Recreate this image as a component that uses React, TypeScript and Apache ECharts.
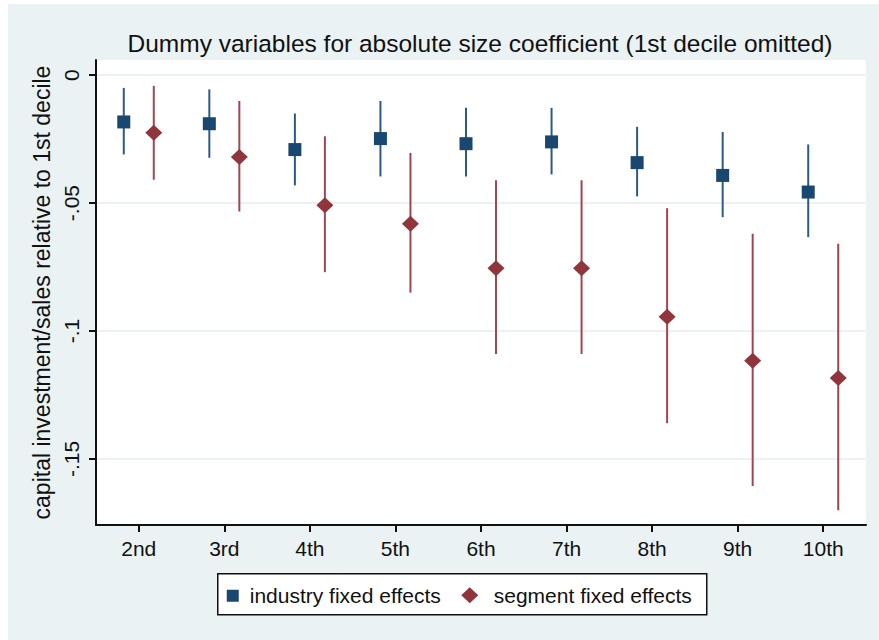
import React, { useEffect, useRef } from "react";
import * as echarts from "echarts";

const categories = ["2nd", "3rd", "4th", "5th", "6th", "7th", "8th", "9th", "10th"];
const industryCoef = [-0.0183, -0.019, -0.0291, -0.0248, -0.0268, -0.0261, -0.0342, -0.0392, -0.0457];
const industryLow = [-0.031, -0.0323, -0.0431, -0.0396, -0.0396, -0.0388, -0.0474, -0.0555, -0.0633];
const industryHigh = [-0.005, -0.0056, -0.015, -0.0101, -0.0128, -0.0128, -0.0202, -0.0222, -0.0271];
const segmentCoef = [-0.0225, -0.032, -0.0509, -0.0581, -0.0755, -0.0755, -0.0944, -0.1116, -0.1184];
const segmentLow = [-0.0409, -0.0533, -0.077, -0.085, -0.109, -0.109, -0.136, -0.1606, -0.17];
const segmentHigh = [-0.0042, -0.0101, -0.0239, -0.0304, -0.0411, -0.0411, -0.052, -0.062, -0.0659];
const yTicks = [0, -0.05, -0.1, -0.15];

const titleText = "Dummy variables for absolute size coefficient (1st decile omitted)";
const yAxisTitle = "capital investment/sales relative to 1st decile";
const industryName = "industry fixed effects";
const segmentName = "segment fixed effects";

const NAVY = "#1a476f";
const NAVY_LINE = "#2c5a86";
const MAROON = "#90353b";
const MAROON_LINE = "#a0464e";
const BG = "#eaf2f3";
const FONT = "Liberation Sans, Arial, sans-serif";

function errorBars(low: number[], high: number[], offset: number, color: string) {
  return {
    type: "custom",
    silent: true,
    z: 2,
    data: low.map((l, i) => [i, l, high[i]]),
    renderItem: (params: any, api: any) => {
      const p1 = api.coord([api.value(0), api.value(1)]);
      const p2 = api.coord([api.value(0), api.value(2)]);
      return {
        type: "line",
        shape: { x1: p1[0] + offset, y1: p1[1], x2: p2[0] + offset, y2: p2[1] },
        style: { stroke: color, lineWidth: 2 },
      };
    },
  };
}

function fmtTick(v: number) {
  if (v === 0) return "0";
  return String(v).replace("0.", ".");
}

export default function App() {
  const ref = useRef<HTMLDivElement>(null);
  useEffect(() => {
    document.body.style.margin = "0";
    const chart = echarts.init(ref.current!, null, { renderer: "svg" });
    const legendX = 209;
    const legendY = 569;
    chart.setOption({
      animation: false,
      backgroundColor: BG,
      title: {
        text: titleText,
        left: 472,
        top: 27,
        padding: 0,
        textAlign: "center",
        textStyle: { fontFamily: FONT, fontSize: 24.5, fontWeight: "normal", color: "#111" },
      },
      grid: {
        left: 88,
        top: 56,
        right: 13,
        bottom: 115,
        show: true,
        backgroundColor: "#ffffff",
        borderWidth: 0,
      },
      xAxis: {
        type: "category",
        data: categories,
        boundaryGap: true,
        axisLine: { show: true, onZero: false, lineStyle: { color: "#111", width: 2 } },
        axisTick: { show: true, alignWithLabel: true, length: 7, lineStyle: { color: "#111", width: 2 } },
        axisLabel: { margin: 13, fontFamily: FONT, fontSize: 21, color: "#111" },
        splitLine: { show: false },
      },
      yAxis: {
        type: "value",
        min: -0.1758,
        max: 0.0059,
        name: yAxisTitle,
        nameLocation: "middle",
        nameGap: 38,
        nameRotate: 90,
        nameTextStyle: { fontFamily: FONT, fontSize: 23, color: "#111" },
        axisLine: { show: true, onZero: false, lineStyle: { color: "#111", width: 2 } },
        axisTick: { show: true, length: 7, customValues: yTicks, lineStyle: { color: "#111", width: 2 } },
        axisLabel: {
          rotate: 90,
          margin: 14,
          customValues: yTicks,
          formatter: fmtTick,
          fontFamily: FONT,
          fontSize: 21,
          color: "#111",
        },
        splitLine: { show: true, lineStyle: { color: "#e4edf0", width: 1.5 } },
      },
      series: [
        errorBars(industryLow, industryHigh, -15, NAVY_LINE),
        errorBars(segmentLow, segmentHigh, 15, MAROON_LINE),
        {
          type: "scatter",
          name: industryName,
          z: 3,
          symbol: "rect",
          symbolSize: 13,
          symbolOffset: [-15, 0],
          itemStyle: { color: NAVY, opacity: 1 },
          data: industryCoef,
        },
        {
          type: "scatter",
          name: segmentName,
          z: 3,
          symbol: "diamond",
          symbolSize: [17, 16],
          symbolOffset: [15, 0],
          itemStyle: { color: MAROON, opacity: 1 },
          data: segmentCoef,
        },
      ],
      graphic: [
        {
          type: "group",
          left: legendX,
          top: legendY,
          children: [
            {
              type: "rect",
              shape: { x: 0, y: 0, width: 489, height: 41 },
              style: { fill: "#fff", stroke: "#111", lineWidth: 1.5 },
            },
            {
              type: "rect",
              shape: { x: 9, y: 16, width: 12, height: 12 },
              style: { fill: NAVY },
            },
            {
              type: "text",
              x: 32,
              y: 22,
              style: { text: industryName, font: `21px ${FONT}`, fill: "#111", textVerticalAlign: "middle" },
            },
            {
              type: "polygon",
              shape: { points: [[252, 13.5], [260.5, 21.5], [252, 29.5], [243.5, 21.5]] },
              style: { fill: MAROON },
            },
            {
              type: "text",
              x: 276,
              y: 22,
              style: { text: segmentName, font: `21px ${FONT}`, fill: "#111", textVerticalAlign: "middle" },
            },
          ],
        },
      ],
    });
    return () => chart.dispose();
  }, []);
  return (
    <div style={{ width: 879, height: 640, background: "#fff", position: "relative" }}>
      <div ref={ref} style={{ position: "absolute", left: 8, top: 4, width: 871, height: 636 }} />
    </div>
  );
}
